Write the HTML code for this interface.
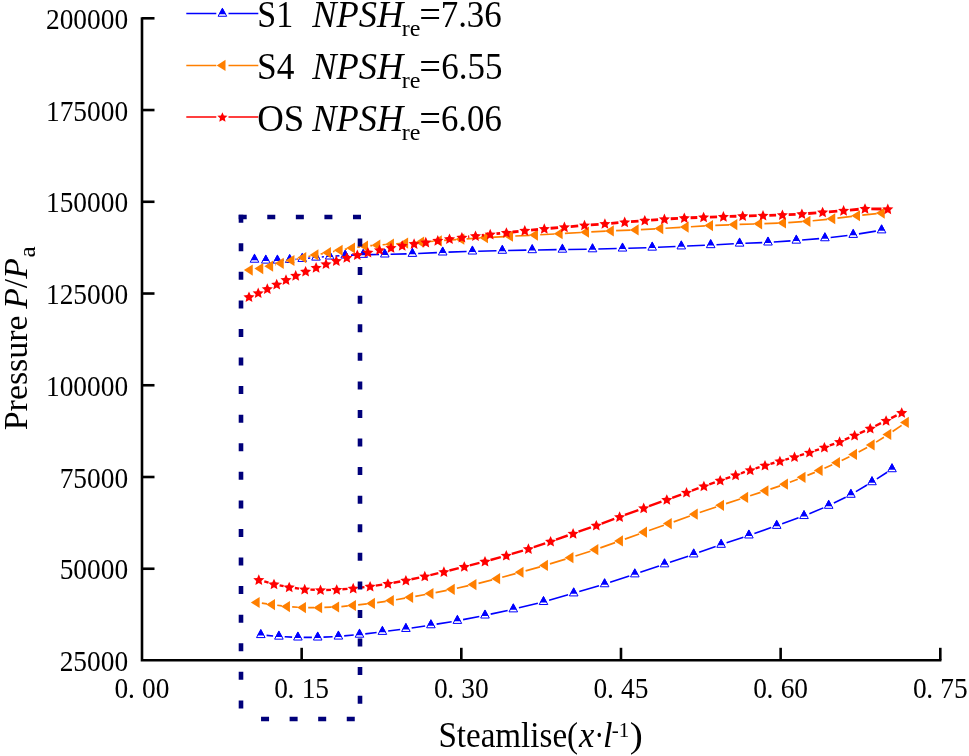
<!DOCTYPE html>
<html lang="en">
<head>
<meta charset="utf-8">
<title>Pressure along streamline</title>
<style>
html,body{margin:0;padding:0;background:#fff;}
body{width:969px;height:756px;overflow:hidden;}
svg{display:block;}
</style>
</head>
<body>
<svg width="969" height="756" viewBox="0 0 969 756">
<rect width="969" height="756" fill="#fff"/>
<g stroke="#000" stroke-width="2.6" fill="none" stroke-linecap="butt">
<path d="M142 17.2V660.3H941.4"/>
<path d="M142 18.3H154.5"/>
<path d="M142 110.04H154.5"/>
<path d="M142 201.78H154.5"/>
<path d="M142 293.52H154.5"/>
<path d="M142 385.26H154.5"/>
<path d="M142 477H154.5"/>
<path d="M142 568.74H154.5"/>
<path d="M301.66 660.3V647.8"/>
<path d="M461.32 660.3V647.8"/>
<path d="M620.98 660.3V647.8"/>
<path d="M780.64 660.3V647.8"/>
<path d="M940.3 660.3V647.8"/>
</g>
<g font-family="'Liberation Serif', serif" fill="#000">
<g>
<text transform="translate(128.1 28.8) scale(1 1.05)" font-size="27.4" text-anchor="end">200000</text>
<text transform="translate(128.1 120.54) scale(1 1.05)" font-size="27.4" text-anchor="end">175000</text>
<text transform="translate(128.1 212.28) scale(1 1.05)" font-size="27.4" text-anchor="end">150000</text>
<text transform="translate(128.1 304.02) scale(1 1.05)" font-size="27.4" text-anchor="end">125000</text>
<text transform="translate(128.1 395.76) scale(1 1.05)" font-size="27.4" text-anchor="end">100000</text>
<text transform="translate(128.1 487.5) scale(1 1.05)" font-size="27.4" text-anchor="end">75000</text>
<text transform="translate(128.1 579.24) scale(1 1.05)" font-size="27.4" text-anchor="end">50000</text>
<text transform="translate(128.1 670.98) scale(1 1.05)" font-size="27.4" text-anchor="end">25000</text>
<text transform="translate(142 697.6) scale(1 1.05)" font-size="27.4" x="-27.4 -14.1 0 13.7">0.00</text>
<text transform="translate(301.66 697.6) scale(1 1.05)" font-size="27.4" x="-27.4 -14.1 0 13.7">0.15</text>
<text transform="translate(461.32 697.6) scale(1 1.05)" font-size="27.4" x="-27.4 -14.1 0 13.7">0.30</text>
<text transform="translate(620.98 697.6) scale(1 1.05)" font-size="27.4" x="-27.4 -14.1 0 13.7">0.45</text>
<text transform="translate(780.64 697.6) scale(1 1.05)" font-size="27.4" x="-27.4 -14.1 0 13.7">0.60</text>
<text transform="translate(940.3 697.6) scale(1 1.05)" font-size="27.4" x="-27.4 -14.1 0 13.7">0.75</text>
</g>
<text transform="translate(438.38 746.8) scale(1 1.09)" font-size="33.11">Steamlise(</text>
<text transform="translate(579.04 746.8) scale(1 1.05)" font-size="34.44" font-style="italic">x</text>
<text transform="translate(594.3 746.8) scale(1 1.2)" font-size="30">·</text>
<text transform="translate(603.08 746.8) scale(1 1.05)" font-size="34.4" font-style="italic">l</text>
<text transform="translate(611.76 736.6) scale(1 1)" font-size="21.1">-1</text>
<text transform="translate(629.72 746.8) scale(1 0.92)" font-size="39.23">)</text>
<g transform="translate(26.5 0) rotate(-90)">
<text transform="translate(-430.22 0) scale(1 1.01)" font-size="33.89">Pressure</text>
<text transform="translate(-308.8 0) scale(1 1.02)" font-size="33.7"><tspan font-style="italic">P</tspan>/<tspan font-style="italic">P</tspan></text>
<text transform="translate(-257.41 8.7) scale(1 0.96)" font-size="25.13">a</text>
</g>
</g>
<path d="M283.19 260.17L283.91 260.14M295.48 259.35L296.42 259.27M307.97 258.22L310.23 258M321.78 256.99L323.92 256.82M335.49 256.01L339.41 255.77M351 255.17L357.4 254.91M369 254.59L379 254.45M390.6 254.23L406.6 253.86M418.19 253.47L436.91 252.61M448.5 252.16L466.6 251.56M478.2 251.23L496.5 250.77M508.1 250.51L526.4 250.15M538 249.94L556.6 249.64M568.2 249.47L586.7 249.21M598.3 248.99L616.7 248.54M628.3 248.22L646.4 247.68M657.99 247.26L675.51 246.52M687.09 246.02L704.91 245.25M716.49 244.69L733.81 243.78M745.4 243.24L762.2 242.59M773.79 241.99L790.51 240.88M802.08 240.01L819.12 238.58M830.66 237.42L847.44 235.44M858.93 233.84L875.87 231.14" stroke="#0000ff" stroke-width="1.6" fill="none"/>
<path d="M266.58 635.42L273.12 635.99M284.69 636.76L292.11 637.1M303.7 637.38L311.9 637.39M323.49 637.12L332.61 636.69M344.18 635.91L353.72 635.06M365.26 633.84L376.64 632.44M388.16 631.01L400.14 629.52M411.64 627.95L425.16 625.95M436.62 624.16L451.68 621.68M463.09 619.63L479.31 616.48M490.67 614.14L507.63 610.43M518.94 607.83L537.86 603.23M549.08 600.27L568.12 594.84M579.26 591.6L599.04 585.74M610.11 582.29L629.29 576.02M640.29 572.36L659.01 566.04M669.99 562.33L688.21 556.15M699.17 552.37L715.63 546.58M726.6 542.81L743.4 537.17M754.38 533.43L771.22 527.61M782.16 523.75L798.54 517.85M809.36 513.66L823.34 507.87M833.89 503.07L845.71 497.2M855.88 491.65L867.02 485.02M876.86 478.89L887.14 472.22" stroke="#0000ff" stroke-width="1.6" fill="none"/>
<path d="M254.5 254.22L258.8 262.22L250.2 262.22Z" fill="#fff" stroke="#0000ff" stroke-width="1" stroke-linejoin="miter"/><path d="M254.5 253.62L258.08 260.14L250.92 260.14Z" fill="#0000ff"/>
<path d="M265.8 255.11L270.1 263.11L261.5 263.11Z" fill="#fff" stroke="#0000ff" stroke-width="1" stroke-linejoin="miter"/><path d="M265.8 254.51L269.38 261.03L262.22 261.03Z" fill="#0000ff"/>
<path d="M277.4 255.13L281.7 263.13L273.1 263.13Z" fill="#fff" stroke="#0000ff" stroke-width="1" stroke-linejoin="miter"/><path d="M277.4 254.53L280.98 261.05L273.82 261.05Z" fill="#0000ff"/>
<path d="M289.7 254.51L294 262.51L285.4 262.51Z" fill="#fff" stroke="#0000ff" stroke-width="1" stroke-linejoin="miter"/><path d="M289.7 253.91L293.28 260.43L286.12 260.43Z" fill="#0000ff"/>
<path d="M302.2 253.44L306.5 261.44L297.9 261.44Z" fill="#fff" stroke="#0000ff" stroke-width="1" stroke-linejoin="miter"/><path d="M302.2 252.84L305.78 259.36L298.62 259.36Z" fill="#0000ff"/>
<path d="M316 252.12L320.3 260.12L311.7 260.12Z" fill="#fff" stroke="#0000ff" stroke-width="1" stroke-linejoin="miter"/><path d="M316 251.52L319.58 258.04L312.42 258.04Z" fill="#0000ff"/>
<path d="M329.7 251.03L334 259.03L325.4 259.03Z" fill="#fff" stroke="#0000ff" stroke-width="1" stroke-linejoin="miter"/><path d="M329.7 250.43L333.28 256.95L326.12 256.95Z" fill="#0000ff"/>
<path d="M345.2 250.08L349.5 258.08L340.9 258.08Z" fill="#fff" stroke="#0000ff" stroke-width="1" stroke-linejoin="miter"/><path d="M345.2 249.48L348.78 256L341.62 256Z" fill="#0000ff"/>
<path d="M363.2 249.35L367.5 257.35L358.9 257.35Z" fill="#fff" stroke="#0000ff" stroke-width="1" stroke-linejoin="miter"/><path d="M363.2 248.75L366.78 255.27L359.62 255.27Z" fill="#0000ff"/>
<path d="M384.8 249.03L389.1 257.03L380.5 257.03Z" fill="#fff" stroke="#0000ff" stroke-width="1" stroke-linejoin="miter"/><path d="M384.8 248.43L388.38 254.95L381.22 254.95Z" fill="#0000ff"/>
<path d="M412.4 248.4L416.7 256.4L408.1 256.4Z" fill="#fff" stroke="#0000ff" stroke-width="1" stroke-linejoin="miter"/><path d="M412.4 247.8L415.98 254.32L408.82 254.32Z" fill="#0000ff"/>
<path d="M442.7 247.02L447 255.02L438.4 255.02Z" fill="#fff" stroke="#0000ff" stroke-width="1" stroke-linejoin="miter"/><path d="M442.7 246.42L446.28 252.94L439.12 252.94Z" fill="#0000ff"/>
<path d="M472.4 246.04L476.7 254.04L468.1 254.04Z" fill="#fff" stroke="#0000ff" stroke-width="1" stroke-linejoin="miter"/><path d="M472.4 245.44L475.98 251.96L468.82 251.96Z" fill="#0000ff"/>
<path d="M502.3 245.29L506.6 253.29L498 253.29Z" fill="#fff" stroke="#0000ff" stroke-width="1" stroke-linejoin="miter"/><path d="M502.3 244.69L505.88 251.21L498.72 251.21Z" fill="#0000ff"/>
<path d="M532.2 244.7L536.5 252.7L527.9 252.7Z" fill="#fff" stroke="#0000ff" stroke-width="1" stroke-linejoin="miter"/><path d="M532.2 244.1L535.78 250.62L528.62 250.62Z" fill="#0000ff"/>
<path d="M562.4 244.21L566.7 252.21L558.1 252.21Z" fill="#fff" stroke="#0000ff" stroke-width="1" stroke-linejoin="miter"/><path d="M562.4 243.61L565.98 250.13L558.82 250.13Z" fill="#0000ff"/>
<path d="M592.5 243.8L596.8 251.8L588.2 251.8Z" fill="#fff" stroke="#0000ff" stroke-width="1" stroke-linejoin="miter"/><path d="M592.5 243.2L596.08 249.72L588.92 249.72Z" fill="#0000ff"/>
<path d="M622.5 243.07L626.8 251.07L618.2 251.07Z" fill="#fff" stroke="#0000ff" stroke-width="1" stroke-linejoin="miter"/><path d="M622.5 242.47L626.08 248.99L618.92 248.99Z" fill="#0000ff"/>
<path d="M652.2 242.17L656.5 250.17L647.9 250.17Z" fill="#fff" stroke="#0000ff" stroke-width="1" stroke-linejoin="miter"/><path d="M652.2 241.57L655.78 248.09L648.62 248.09Z" fill="#0000ff"/>
<path d="M681.3 240.94L685.6 248.94L677 248.94Z" fill="#fff" stroke="#0000ff" stroke-width="1" stroke-linejoin="miter"/><path d="M681.3 240.34L684.88 246.86L677.72 246.86Z" fill="#0000ff"/>
<path d="M710.7 239.67L715 247.67L706.4 247.67Z" fill="#fff" stroke="#0000ff" stroke-width="1" stroke-linejoin="miter"/><path d="M710.7 239.07L714.28 245.59L707.12 245.59Z" fill="#0000ff"/>
<path d="M739.6 238.14L743.9 246.14L735.3 246.14Z" fill="#fff" stroke="#0000ff" stroke-width="1" stroke-linejoin="miter"/><path d="M739.6 237.54L743.18 244.06L736.02 244.06Z" fill="#0000ff"/>
<path d="M768 237.03L772.3 245.03L763.7 245.03Z" fill="#fff" stroke="#0000ff" stroke-width="1" stroke-linejoin="miter"/><path d="M768 236.43L771.58 242.95L764.42 242.95Z" fill="#0000ff"/>
<path d="M796.3 235.17L800.6 243.17L792 243.17Z" fill="#fff" stroke="#0000ff" stroke-width="1" stroke-linejoin="miter"/><path d="M796.3 234.57L799.88 241.09L792.72 241.09Z" fill="#0000ff"/>
<path d="M824.9 232.76L829.2 240.76L820.6 240.76Z" fill="#fff" stroke="#0000ff" stroke-width="1" stroke-linejoin="miter"/><path d="M824.9 232.16L828.48 238.68L821.32 238.68Z" fill="#0000ff"/>
<path d="M853.2 229.42L857.5 237.42L848.9 237.42Z" fill="#fff" stroke="#0000ff" stroke-width="1" stroke-linejoin="miter"/><path d="M853.2 228.82L856.78 235.34L849.62 235.34Z" fill="#0000ff"/>
<path d="M881.6 224.89L885.9 232.89L877.3 232.89Z" fill="#fff" stroke="#0000ff" stroke-width="1" stroke-linejoin="miter"/><path d="M881.6 224.29L885.18 230.81L878.02 230.81Z" fill="#0000ff"/>
<path d="M260.8 629.58L265.1 637.58L256.5 637.58Z" fill="#fff" stroke="#0000ff" stroke-width="1" stroke-linejoin="miter"/><path d="M260.8 628.98L264.38 635.5L257.22 635.5Z" fill="#0000ff"/>
<path d="M278.9 631.16L283.2 639.16L274.6 639.16Z" fill="#fff" stroke="#0000ff" stroke-width="1" stroke-linejoin="miter"/><path d="M278.9 630.56L282.48 637.08L275.32 637.08Z" fill="#0000ff"/>
<path d="M297.9 632.04L302.2 640.04L293.6 640.04Z" fill="#fff" stroke="#0000ff" stroke-width="1" stroke-linejoin="miter"/><path d="M297.9 631.44L301.48 637.96L294.32 637.96Z" fill="#0000ff"/>
<path d="M317.7 632.06L322 640.06L313.4 640.06Z" fill="#fff" stroke="#0000ff" stroke-width="1" stroke-linejoin="miter"/><path d="M317.7 631.46L321.28 637.98L314.12 637.98Z" fill="#0000ff"/>
<path d="M338.4 631.09L342.7 639.09L334.1 639.09Z" fill="#fff" stroke="#0000ff" stroke-width="1" stroke-linejoin="miter"/><path d="M338.4 630.49L341.98 637.01L334.82 637.01Z" fill="#0000ff"/>
<path d="M359.5 629.21L363.8 637.21L355.2 637.21Z" fill="#fff" stroke="#0000ff" stroke-width="1" stroke-linejoin="miter"/><path d="M359.5 628.61L363.08 635.13L355.92 635.13Z" fill="#0000ff"/>
<path d="M382.4 626.4L386.7 634.4L378.1 634.4Z" fill="#fff" stroke="#0000ff" stroke-width="1" stroke-linejoin="miter"/><path d="M382.4 625.8L385.98 632.32L378.82 632.32Z" fill="#0000ff"/>
<path d="M405.9 623.46L410.2 631.46L401.6 631.46Z" fill="#fff" stroke="#0000ff" stroke-width="1" stroke-linejoin="miter"/><path d="M405.9 622.86L409.48 629.38L402.32 629.38Z" fill="#0000ff"/>
<path d="M430.9 619.77L435.2 627.77L426.6 627.77Z" fill="#fff" stroke="#0000ff" stroke-width="1" stroke-linejoin="miter"/><path d="M430.9 619.17L434.48 625.69L427.32 625.69Z" fill="#0000ff"/>
<path d="M457.4 615.41L461.7 623.41L453.1 623.41Z" fill="#fff" stroke="#0000ff" stroke-width="1" stroke-linejoin="miter"/><path d="M457.4 614.81L460.98 621.33L453.82 621.33Z" fill="#0000ff"/>
<path d="M485 610.04L489.3 618.04L480.7 618.04Z" fill="#fff" stroke="#0000ff" stroke-width="1" stroke-linejoin="miter"/><path d="M485 609.44L488.58 615.96L481.42 615.96Z" fill="#0000ff"/>
<path d="M513.3 603.86L517.6 611.86L509 611.86Z" fill="#fff" stroke="#0000ff" stroke-width="1" stroke-linejoin="miter"/><path d="M513.3 603.26L516.88 609.78L509.72 609.78Z" fill="#0000ff"/>
<path d="M543.5 596.52L547.8 604.52L539.2 604.52Z" fill="#fff" stroke="#0000ff" stroke-width="1" stroke-linejoin="miter"/><path d="M543.5 595.92L547.08 602.44L539.92 602.44Z" fill="#0000ff"/>
<path d="M573.7 587.91L578 595.91L569.4 595.91Z" fill="#fff" stroke="#0000ff" stroke-width="1" stroke-linejoin="miter"/><path d="M573.7 587.31L577.28 593.83L570.12 593.83Z" fill="#0000ff"/>
<path d="M604.6 578.75L608.9 586.75L600.3 586.75Z" fill="#fff" stroke="#0000ff" stroke-width="1" stroke-linejoin="miter"/><path d="M604.6 578.15L608.18 584.67L601.02 584.67Z" fill="#0000ff"/>
<path d="M634.8 568.89L639.1 576.89L630.5 576.89Z" fill="#fff" stroke="#0000ff" stroke-width="1" stroke-linejoin="miter"/><path d="M634.8 568.29L638.38 574.81L631.22 574.81Z" fill="#0000ff"/>
<path d="M664.5 558.85L668.8 566.85L660.2 566.85Z" fill="#fff" stroke="#0000ff" stroke-width="1" stroke-linejoin="miter"/><path d="M664.5 558.25L668.08 564.77L660.92 564.77Z" fill="#0000ff"/>
<path d="M693.7 548.96L698 556.96L689.4 556.96Z" fill="#fff" stroke="#0000ff" stroke-width="1" stroke-linejoin="miter"/><path d="M693.7 548.36L697.28 554.88L690.12 554.88Z" fill="#0000ff"/>
<path d="M721.1 539.32L725.4 547.32L716.8 547.32Z" fill="#fff" stroke="#0000ff" stroke-width="1" stroke-linejoin="miter"/><path d="M721.1 538.72L724.68 545.24L717.52 545.24Z" fill="#0000ff"/>
<path d="M748.9 529.99L753.2 537.99L744.6 537.99Z" fill="#fff" stroke="#0000ff" stroke-width="1" stroke-linejoin="miter"/><path d="M748.9 529.39L752.48 535.91L745.32 535.91Z" fill="#0000ff"/>
<path d="M776.7 520.38L781 528.38L772.4 528.38Z" fill="#fff" stroke="#0000ff" stroke-width="1" stroke-linejoin="miter"/><path d="M776.7 519.78L780.28 526.3L773.12 526.3Z" fill="#0000ff"/>
<path d="M804 510.55L808.3 518.55L799.7 518.55Z" fill="#fff" stroke="#0000ff" stroke-width="1" stroke-linejoin="miter"/><path d="M804 509.95L807.58 516.47L800.42 516.47Z" fill="#0000ff"/>
<path d="M828.7 500.32L833 508.32L824.4 508.32Z" fill="#fff" stroke="#0000ff" stroke-width="1" stroke-linejoin="miter"/><path d="M828.7 499.72L832.28 506.24L825.12 506.24Z" fill="#0000ff"/>
<path d="M850.9 489.29L855.2 497.29L846.6 497.29Z" fill="#fff" stroke="#0000ff" stroke-width="1" stroke-linejoin="miter"/><path d="M850.9 488.69L854.48 495.21L847.32 495.21Z" fill="#0000ff"/>
<path d="M872 476.72L876.3 484.72L867.7 484.72Z" fill="#fff" stroke="#0000ff" stroke-width="1" stroke-linejoin="miter"/><path d="M872 476.12L875.58 482.64L868.42 482.64Z" fill="#0000ff"/>
<path d="M892 463.73L896.3 471.73L887.7 471.73Z" fill="#fff" stroke="#0000ff" stroke-width="1" stroke-linejoin="miter"/><path d="M892 463.13L895.58 469.65L888.42 469.65Z" fill="#0000ff"/>
<path d="M275.22 264.82L275.78 264.66M285.83 261.99L286.47 261.83M296.55 259.28L298.25 258.86M308.38 256.5L310.42 256.05M320.61 253.99L322.89 253.58M333.09 251.6L334.61 251.29M344.82 249.31L346.98 248.92M357.25 247.26L359.95 246.87M370.28 245.71L372.22 245.56M382.59 244.76L385.81 244.52M396.19 243.76L400.01 243.48M410.39 242.79L416.01 242.45M426.39 241.76L433.71 241.23M444.09 240.47L456.21 239.59M466.59 238.87L479.91 237.98M490.29 237.35L504.91 236.54M515.29 236L529.81 235.3M540.19 234.76L554.51 233.99M564.89 233.41L580.91 232.48M591.29 231.91L605.71 231.16M616.1 230.69L630.5 230.11M640.89 229.61L655.11 228.83M665.49 228.25L680.51 227.37M690.89 226.75L704.91 225.87M715.3 225.35L729.2 224.82M739.6 224.45L754 223.98M764.4 223.61L777.9 223.09M788.29 222.55L802.31 221.62M812.67 220.75L827.13 219.29M837.46 218.14L851.94 216.38M862.27 215.19L876.63 213.65" stroke="#ff7f00" stroke-width="1.7" fill="none"/>
<path d="M261.85 603.18L266.95 603.86M277.25 605.26L281.85 605.89M292.19 606.9L297.81 607.23M308.2 607.58L314 607.61M324.4 607.45L331 607.2M341.38 606.54L347.82 605.96M358.17 604.91L366.83 603.95M377.15 602.63L385.75 601.37M396.02 599.73L405.08 598.16M415.31 596.34L425.39 594.49M435.6 592.55L446.7 590.37M456.88 588.24L468.42 585.68M478.55 583.3L492.15 579.93M502.22 577.3L515.58 573.64M525.61 570.86L539.99 566.81M549.97 563.89L565.53 559.15M575.45 556.04L590.45 551.22M600.3 547.89L615.1 542.67M624.89 539.16L639.21 533.95M649.01 530.47L663.89 525.3M673.69 521.83L689.91 515.96M699.73 512.53L716.17 506.96M726.04 503.67L740.26 499M750.15 495.78L760.55 492.42M770.42 489.14L780.08 485.84M789.85 482.28L797.75 479.2M807.42 475.37L814.88 472.37M824.45 468.31L832.25 464.8M841.68 460.42L849.42 456.7M858.68 451.97L867.12 447.41M876.09 442.15L883.91 437.2M892.6 431.5L901.6 425.39" stroke="#ff7f00" stroke-width="1.7" fill="none"/>
<path d="M243.93 270.09L252.73 264.49L252.73 275.69Z" fill="#ff7f00"/>
<path d="M254.43 268.53L263.23 262.93L263.23 274.13Z" fill="#ff7f00"/>
<path d="M264.33 266.18L273.13 260.58L273.13 271.78Z" fill="#ff7f00"/>
<path d="M274.93 263.29L283.73 257.69L283.73 268.89Z" fill="#ff7f00"/>
<path d="M285.63 260.52L294.43 254.92L294.43 266.12Z" fill="#ff7f00"/>
<path d="M297.43 257.62L306.23 252.02L306.23 263.22Z" fill="#ff7f00"/>
<path d="M309.63 254.93L318.43 249.33L318.43 260.53Z" fill="#ff7f00"/>
<path d="M322.13 252.64L330.93 247.04L330.93 258.24Z" fill="#ff7f00"/>
<path d="M333.83 250.25L342.63 244.65L342.63 255.85Z" fill="#ff7f00"/>
<path d="M346.23 247.99L355.03 242.39L355.03 253.59Z" fill="#ff7f00"/>
<path d="M359.23 246.14L368.03 240.54L368.03 251.74Z" fill="#ff7f00"/>
<path d="M371.53 245.13L380.33 239.53L380.33 250.73Z" fill="#ff7f00"/>
<path d="M385.13 244.15L393.93 238.55L393.93 249.75Z" fill="#ff7f00"/>
<path d="M399.33 243.1L408.13 237.5L408.13 248.7Z" fill="#ff7f00"/>
<path d="M415.33 242.14L424.13 236.54L424.13 247.74Z" fill="#ff7f00"/>
<path d="M433.03 240.85L441.83 235.25L441.83 246.45Z" fill="#ff7f00"/>
<path d="M455.53 239.21L464.33 233.61L464.33 244.81Z" fill="#ff7f00"/>
<path d="M479.23 237.64L488.03 232.04L488.03 243.24Z" fill="#ff7f00"/>
<path d="M504.23 236.25L513.03 230.65L513.03 241.85Z" fill="#ff7f00"/>
<path d="M529.13 235.04L537.93 229.44L537.93 240.64Z" fill="#ff7f00"/>
<path d="M553.83 233.72L562.63 228.12L562.63 239.32Z" fill="#ff7f00"/>
<path d="M580.23 232.18L589.03 226.58L589.03 237.78Z" fill="#ff7f00"/>
<path d="M605.03 230.9L613.83 225.3L613.83 236.5Z" fill="#ff7f00"/>
<path d="M629.83 229.9L638.63 224.3L638.63 235.5Z" fill="#ff7f00"/>
<path d="M654.43 228.55L663.23 222.95L663.23 234.15Z" fill="#ff7f00"/>
<path d="M679.83 227.07L688.63 221.47L688.63 232.67Z" fill="#ff7f00"/>
<path d="M704.23 225.54L713.03 219.94L713.03 231.14Z" fill="#ff7f00"/>
<path d="M728.53 224.62L737.33 219.02L737.33 230.22Z" fill="#ff7f00"/>
<path d="M753.33 223.81L762.13 218.21L762.13 229.41Z" fill="#ff7f00"/>
<path d="M777.23 222.89L786.03 217.29L786.03 228.49Z" fill="#ff7f00"/>
<path d="M801.63 221.28L810.43 215.68L810.43 226.88Z" fill="#ff7f00"/>
<path d="M826.43 218.77L835.23 213.17L835.23 224.37Z" fill="#ff7f00"/>
<path d="M851.23 215.75L860.03 210.15L860.03 221.35Z" fill="#ff7f00"/>
<path d="M875.93 213.09L884.73 207.49L884.73 218.69Z" fill="#ff7f00"/>
<path d="M250.83 602.48L259.63 596.88L259.63 608.08Z" fill="#ff7f00"/>
<path d="M266.23 604.56L275.03 598.96L275.03 610.16Z" fill="#ff7f00"/>
<path d="M281.13 606.59L289.93 600.99L289.93 612.19Z" fill="#ff7f00"/>
<path d="M297.13 607.54L305.93 601.94L305.93 613.14Z" fill="#ff7f00"/>
<path d="M313.33 607.65L322.13 602.05L322.13 613.25Z" fill="#ff7f00"/>
<path d="M330.33 607.01L339.13 601.41L339.13 612.61Z" fill="#ff7f00"/>
<path d="M347.13 605.49L355.93 599.89L355.93 611.09Z" fill="#ff7f00"/>
<path d="M366.13 603.38L374.93 597.78L374.93 608.98Z" fill="#ff7f00"/>
<path d="M385.03 600.62L393.83 595.02L393.83 606.22Z" fill="#ff7f00"/>
<path d="M404.33 597.28L413.13 591.68L413.13 602.88Z" fill="#ff7f00"/>
<path d="M424.63 593.55L433.43 587.95L433.43 599.15Z" fill="#ff7f00"/>
<path d="M445.93 589.37L454.73 583.77L454.73 594.97Z" fill="#ff7f00"/>
<path d="M467.63 584.55L476.43 578.95L476.43 590.15Z" fill="#ff7f00"/>
<path d="M491.33 578.68L500.13 573.08L500.13 584.28Z" fill="#ff7f00"/>
<path d="M514.73 572.26L523.53 566.66L523.53 577.86Z" fill="#ff7f00"/>
<path d="M539.13 565.4L547.93 559.8L547.93 571Z" fill="#ff7f00"/>
<path d="M564.63 557.63L573.43 552.03L573.43 563.23Z" fill="#ff7f00"/>
<path d="M589.53 549.63L598.33 544.03L598.33 555.23Z" fill="#ff7f00"/>
<path d="M614.13 540.94L622.93 535.34L622.93 546.54Z" fill="#ff7f00"/>
<path d="M638.23 532.17L647.03 526.57L647.03 537.77Z" fill="#ff7f00"/>
<path d="M662.93 523.6L671.73 518L671.73 529.2Z" fill="#ff7f00"/>
<path d="M688.93 514.2L697.73 508.6L697.73 519.8Z" fill="#ff7f00"/>
<path d="M715.23 505.29L724.03 499.69L724.03 510.89Z" fill="#ff7f00"/>
<path d="M739.33 497.38L748.13 491.78L748.13 502.98Z" fill="#ff7f00"/>
<path d="M759.63 490.81L768.43 485.21L768.43 496.41Z" fill="#ff7f00"/>
<path d="M779.13 484.16L787.93 478.56L787.93 489.76Z" fill="#ff7f00"/>
<path d="M796.73 477.31L805.53 471.71L805.53 482.91Z" fill="#ff7f00"/>
<path d="M813.83 470.43L822.63 464.83L822.63 476.03Z" fill="#ff7f00"/>
<path d="M831.13 462.68L839.93 457.08L839.93 468.28Z" fill="#ff7f00"/>
<path d="M848.23 454.44L857.03 448.84L857.03 460.04Z" fill="#ff7f00"/>
<path d="M865.83 444.93L874.63 439.33L874.63 450.53Z" fill="#ff7f00"/>
<path d="M882.43 434.42L891.23 428.82L891.23 440.02Z" fill="#ff7f00"/>
<path d="M900.03 422.47L908.83 416.87L908.83 428.07Z" fill="#ff7f00"/>
<path d="M468.16 236.78L469.24 236.66M481.76 235.28L483.94 235.05M496.47 233.73L500.13 233.34M512.66 231.99L518.54 231.33M531.07 230.04L538.03 229.39M550.58 228.27L558.12 227.64M570.68 226.55L578.22 225.88M590.78 224.86L598.62 224.28M611.18 223.3L618.42 222.69M630.98 221.65L638.52 221.05M651.08 220.08L658.12 219.57M670.69 218.77L678.01 218.37M690.59 217.76L697.31 217.48M709.9 217.04L717.1 216.83M729.7 216.45L736.4 216.24M749 215.89L756.7 215.71M769.3 215.37L776.1 215.15M788.69 214.65L795.61 214.32M808.18 213.49L816.32 212.8M828.88 211.78L837.32 211.1M849.88 210.05L858.72 209.26M871.3 208.81L881.5 208.99" stroke="#ff0000" stroke-width="2.8" fill="none"/>
<path d="M264.28 581.46L268.52 582.69M279.6 585.37L283.6 586.14M294.85 588L299.05 588.58M310.39 589.6L314.81 589.8M326.2 589.93L331 589.83M342.38 589.26L347.52 588.85M358.86 587.74L364.44 587.09M375.74 585.57L382.26 584.58M393.51 582.72L400.29 581.51M411.47 579.28L419.23 577.56M430.35 575.05L438.35 573.19M449.43 570.51L458.77 568.15M469.82 565.36L479.48 562.9M490.49 559.98L500.81 557.11M511.76 553.94L522.94 550.55M533.81 547.1L545.19 543.31M555.98 539.62L567.72 535.5M578.48 531.73L590.92 527.37M601.65 523.52L614.25 518.89M624.95 514.96L638.35 510.06M649.06 506.15L661.44 501.67M672.16 497.78L681.14 494.52M691.85 490.62L698.55 488.17M709.28 484.34L714.82 482.41M725.58 478.65L730.22 477.02M740.99 473.28L744.81 471.96M755.64 468.4L759.56 467.17M770.48 463.9L774.42 462.77M785.38 459.65L789.02 458.62M799.96 455.43L804.04 454.2M814.89 450.7L819.01 449.29M829.75 445.46L834.25 443.8M844.84 439.59L849.36 437.67M859.81 433.12L864.99 430.81M875.32 425.98L880.98 423.2M891.18 418.1L896.62 415.33" stroke="#ff0000" stroke-width="2.4" fill="none"/>
<path d="M249 291.5L250.62 295.12L254.56 295.54L251.61 298.2L252.44 302.08L249 300.1L245.56 302.08L246.39 298.2L243.44 295.54L247.38 295.12Z" fill="#ff0000"/>
<path d="M258.2 287.52L259.82 291.14L263.76 291.56L260.81 294.22L261.64 298.1L258.2 296.12L254.76 298.1L255.59 294.22L252.64 291.56L256.58 291.14Z" fill="#ff0000"/>
<path d="M267.3 283.37L268.92 287L272.86 287.41L269.91 290.07L270.74 293.95L267.3 291.97L263.86 293.95L264.69 290.07L261.74 287.41L265.68 287Z" fill="#ff0000"/>
<path d="M276.7 278.86L278.32 282.49L282.26 282.91L279.31 285.56L280.14 289.45L276.7 287.46L273.26 289.45L274.09 285.56L271.14 282.91L275.08 282.49Z" fill="#ff0000"/>
<path d="M286 274.32L287.62 277.95L291.56 278.36L288.61 281.02L289.44 284.9L286 282.92L282.56 284.9L283.39 281.02L280.44 278.36L284.38 277.95Z" fill="#ff0000"/>
<path d="M295.7 270.05L297.32 273.68L301.26 274.1L298.31 276.75L299.14 280.64L295.7 278.65L292.26 280.64L293.09 276.75L290.14 274.1L294.08 273.68Z" fill="#ff0000"/>
<path d="M305.6 265.96L307.22 269.59L311.16 270L308.21 272.66L309.04 276.54L305.6 274.56L302.16 276.54L302.99 272.66L300.04 270L303.98 269.59Z" fill="#ff0000"/>
<path d="M316.1 262.09L317.72 265.72L321.66 266.13L318.71 268.79L319.54 272.67L316.1 270.69L312.66 272.67L313.49 268.79L310.54 266.13L314.48 265.72Z" fill="#ff0000"/>
<path d="M326 258.52L327.62 262.14L331.56 262.56L328.61 265.22L329.44 269.1L326 267.12L322.56 269.1L323.39 265.22L320.44 262.56L324.38 262.14Z" fill="#ff0000"/>
<path d="M336.3 255.33L337.92 258.95L341.86 259.37L338.91 262.03L339.74 265.91L336.3 263.93L332.86 265.91L333.69 262.03L330.74 259.37L334.68 258.95Z" fill="#ff0000"/>
<path d="M346.8 252.23L348.42 255.85L352.36 256.27L349.41 258.93L350.24 262.81L346.8 260.83L343.36 262.81L344.19 258.93L341.24 256.27L345.18 255.85Z" fill="#ff0000"/>
<path d="M357.3 249.46L358.92 253.08L362.86 253.5L359.91 256.16L360.74 260.04L357.3 258.06L353.86 260.04L354.69 256.16L351.74 253.5L355.68 253.08Z" fill="#ff0000"/>
<path d="M367.9 246.91L369.52 250.53L373.46 250.95L370.51 253.61L371.34 257.49L367.9 255.51L364.46 257.49L365.29 253.61L362.34 250.95L366.28 250.53Z" fill="#ff0000"/>
<path d="M379.5 244.52L381.12 248.14L385.06 248.56L382.11 251.22L382.94 255.1L379.5 253.12L376.06 255.1L376.89 251.22L373.94 248.56L377.88 248.14Z" fill="#ff0000"/>
<path d="M391 242.28L392.62 245.9L396.56 246.32L393.61 248.98L394.44 252.86L391 250.88L387.56 252.86L388.39 248.98L385.44 246.32L389.38 245.9Z" fill="#ff0000"/>
<path d="M402.2 240.22L403.82 243.85L407.76 244.26L404.81 246.92L405.64 250.8L402.2 248.82L398.76 250.8L399.59 246.92L396.64 244.26L400.58 243.85Z" fill="#ff0000"/>
<path d="M414.1 238.33L415.72 241.95L419.66 242.37L416.71 245.02L417.54 248.91L414.1 246.92L410.66 248.91L411.49 245.02L408.54 242.37L412.48 241.95Z" fill="#ff0000"/>
<path d="M425.8 236.82L427.42 240.45L431.36 240.87L428.41 243.52L429.24 247.41L425.8 245.42L422.36 247.41L423.19 243.52L420.24 240.87L424.18 240.45Z" fill="#ff0000"/>
<path d="M437.8 235.07L439.42 238.69L443.36 239.11L440.41 241.77L441.24 245.65L437.8 243.67L434.36 245.65L435.19 241.77L432.24 239.11L436.18 238.69Z" fill="#ff0000"/>
<path d="M449.5 233.48L451.12 237.11L455.06 237.53L452.11 240.18L452.94 244.07L449.5 242.08L446.06 244.07L446.89 240.18L443.94 237.53L447.88 237.11Z" fill="#ff0000"/>
<path d="M461.9 231.94L463.52 235.56L467.46 235.98L464.51 238.64L465.34 242.52L461.9 240.54L458.46 242.52L459.29 238.64L456.34 235.98L460.28 235.56Z" fill="#ff0000"/>
<path d="M475.5 230.4L477.12 234.03L481.06 234.45L478.11 237.1L478.94 240.99L475.5 239L472.06 240.99L472.89 237.1L469.94 234.45L473.88 234.03Z" fill="#ff0000"/>
<path d="M490.2 228.83L491.82 232.46L495.76 232.87L492.81 235.53L493.64 239.41L490.2 237.43L486.76 239.41L487.59 235.53L484.64 232.87L488.58 232.46Z" fill="#ff0000"/>
<path d="M506.4 227.14L508.02 230.77L511.96 231.18L509.01 233.84L509.84 237.72L506.4 235.74L502.96 237.72L503.79 233.84L500.84 231.18L504.78 230.77Z" fill="#ff0000"/>
<path d="M524.8 225.07L526.42 228.7L530.36 229.11L527.41 231.77L528.24 235.65L524.8 233.67L521.36 235.65L522.19 231.77L519.24 229.11L523.18 228.7Z" fill="#ff0000"/>
<path d="M544.3 223.25L545.92 226.88L549.86 227.29L546.91 229.95L547.74 233.83L544.3 231.85L540.86 233.83L541.69 229.95L538.74 227.29L542.68 226.88Z" fill="#ff0000"/>
<path d="M564.4 221.56L566.02 225.19L569.96 225.6L567.01 228.26L567.84 232.14L564.4 230.16L560.96 232.14L561.79 228.26L558.84 225.6L562.78 225.19Z" fill="#ff0000"/>
<path d="M584.5 219.77L586.12 223.39L590.06 223.81L587.11 226.46L587.94 230.35L584.5 228.36L581.06 230.35L581.89 226.46L578.94 223.81L582.88 223.39Z" fill="#ff0000"/>
<path d="M604.9 218.27L606.52 221.9L610.46 222.32L607.51 224.97L608.34 228.86L604.9 226.87L601.46 228.86L602.29 224.97L599.34 222.32L603.28 221.9Z" fill="#ff0000"/>
<path d="M624.7 216.61L626.32 220.23L630.26 220.65L627.31 223.31L628.14 227.19L624.7 225.21L621.26 227.19L622.09 223.31L619.14 220.65L623.08 220.23Z" fill="#ff0000"/>
<path d="M644.8 214.99L646.42 218.62L650.36 219.03L647.41 221.69L648.24 225.57L644.8 223.59L641.36 225.57L642.19 221.69L639.24 219.03L643.18 218.62Z" fill="#ff0000"/>
<path d="M664.4 213.57L666.02 217.19L669.96 217.61L667.01 220.27L667.84 224.15L664.4 222.17L660.96 224.15L661.79 220.27L658.84 217.61L662.78 217.19Z" fill="#ff0000"/>
<path d="M684.3 212.47L685.92 216.1L689.86 216.51L686.91 219.17L687.74 223.05L684.3 221.07L680.86 223.05L681.69 219.17L678.74 216.51L682.68 216.1Z" fill="#ff0000"/>
<path d="M703.6 211.67L705.22 215.29L709.16 215.71L706.21 218.37L707.04 222.25L703.6 220.27L700.16 222.25L700.99 218.37L698.04 215.71L701.98 215.29Z" fill="#ff0000"/>
<path d="M723.4 211.09L725.02 214.72L728.96 215.14L726.01 217.79L726.84 221.68L723.4 219.69L719.96 221.68L720.79 217.79L717.84 215.14L721.78 214.72Z" fill="#ff0000"/>
<path d="M742.7 210.49L744.32 214.11L748.26 214.53L745.31 217.19L746.14 221.07L742.7 219.09L739.26 221.07L740.09 217.19L737.14 214.53L741.08 214.11Z" fill="#ff0000"/>
<path d="M763 210.02L764.62 213.64L768.56 214.06L765.61 216.72L766.44 220.6L763 218.62L759.56 220.6L760.39 216.72L757.44 214.06L761.38 213.64Z" fill="#ff0000"/>
<path d="M782.4 209.4L784.02 213.03L787.96 213.44L785.01 216.1L785.84 219.98L782.4 218L778.96 219.98L779.79 216.1L776.84 213.44L780.78 213.03Z" fill="#ff0000"/>
<path d="M801.9 208.47L803.52 212.1L807.46 212.51L804.51 215.17L805.34 219.05L801.9 217.07L798.46 219.05L799.29 215.17L796.34 212.51L800.28 212.1Z" fill="#ff0000"/>
<path d="M822.6 206.72L824.22 210.35L828.16 210.77L825.21 213.42L826.04 217.31L822.6 215.32L819.16 217.31L819.99 213.42L817.04 210.77L820.98 210.35Z" fill="#ff0000"/>
<path d="M843.6 205.06L845.22 208.68L849.16 209.1L846.21 211.76L847.04 215.64L843.6 213.66L840.16 215.64L840.99 211.76L838.04 209.1L841.98 208.68Z" fill="#ff0000"/>
<path d="M865 203.15L866.62 206.78L870.56 207.19L867.61 209.85L868.44 213.73L865 211.75L861.56 213.73L862.39 209.85L859.44 207.19L863.38 206.78Z" fill="#ff0000"/>
<path d="M887.8 203.55L889.42 207.18L893.36 207.59L890.41 210.25L891.24 214.13L887.8 212.15L884.36 214.13L885.19 210.25L882.24 207.59L886.18 207.18Z" fill="#ff0000"/>
<path d="M258.8 574.33L260.42 577.95L264.36 578.37L261.41 581.03L262.24 584.91L258.8 582.93L255.36 584.91L256.19 581.03L253.24 578.37L257.18 577.95Z" fill="#ff0000"/>
<path d="M274 578.73L275.62 582.35L279.56 582.77L276.61 585.43L277.44 589.31L274 587.33L270.56 589.31L271.39 585.43L268.44 582.77L272.38 582.35Z" fill="#ff0000"/>
<path d="M289.2 581.68L290.82 585.31L294.76 585.72L291.81 588.38L292.64 592.26L289.2 590.28L285.76 592.26L286.59 588.38L283.64 585.72L287.58 585.31Z" fill="#ff0000"/>
<path d="M304.7 583.8L306.32 587.42L310.26 587.84L307.31 590.5L308.14 594.38L304.7 592.4L301.26 594.38L302.09 590.5L299.14 587.84L303.08 587.42Z" fill="#ff0000"/>
<path d="M320.5 584.51L322.12 588.13L326.06 588.55L323.11 591.21L323.94 595.09L320.5 593.11L317.06 595.09L317.89 591.21L314.94 588.55L318.88 588.13Z" fill="#ff0000"/>
<path d="M336.7 584.16L338.32 587.78L342.26 588.2L339.31 590.86L340.14 594.74L336.7 592.76L333.26 594.74L334.09 590.86L331.14 588.2L335.08 587.78Z" fill="#ff0000"/>
<path d="M353.2 582.85L354.82 586.48L358.76 586.89L355.81 589.55L356.64 593.43L353.2 591.45L349.76 593.43L350.59 589.55L347.64 586.89L351.58 586.48Z" fill="#ff0000"/>
<path d="M370.1 580.88L371.72 584.51L375.66 584.92L372.71 587.58L373.54 591.46L370.1 589.48L366.66 591.46L367.49 587.58L364.54 584.92L368.48 584.51Z" fill="#ff0000"/>
<path d="M387.9 578.17L389.52 581.79L393.46 582.21L390.51 584.87L391.34 588.75L387.9 586.77L384.46 588.75L385.29 584.87L382.34 582.21L386.28 581.79Z" fill="#ff0000"/>
<path d="M405.9 574.96L407.52 578.59L411.46 579L408.51 581.66L409.34 585.54L405.9 583.56L402.46 585.54L403.29 581.66L400.34 579L404.28 578.59Z" fill="#ff0000"/>
<path d="M424.8 570.78L426.42 574.41L430.36 574.83L427.41 577.48L428.24 581.37L424.8 579.38L421.36 581.37L422.19 577.48L419.24 574.83L423.18 574.41Z" fill="#ff0000"/>
<path d="M443.9 566.35L445.52 569.98L449.46 570.39L446.51 573.05L447.34 576.93L443.9 574.95L440.46 576.93L441.29 573.05L438.34 570.39L442.28 569.98Z" fill="#ff0000"/>
<path d="M464.3 561.21L465.92 564.84L469.86 565.25L466.91 567.91L467.74 571.8L464.3 569.81L460.86 571.8L461.69 567.91L458.74 565.25L462.68 564.84Z" fill="#ff0000"/>
<path d="M485 555.95L486.62 559.58L490.56 559.99L487.61 562.65L488.44 566.53L485 564.55L481.56 566.53L482.39 562.65L479.44 559.99L483.38 559.58Z" fill="#ff0000"/>
<path d="M506.3 550.04L507.92 553.66L511.86 554.08L508.91 556.74L509.74 560.62L506.3 558.64L502.86 560.62L503.69 556.74L500.74 554.08L504.68 553.66Z" fill="#ff0000"/>
<path d="M528.4 543.35L530.02 546.98L533.96 547.4L531.01 550.05L531.84 553.94L528.4 551.95L524.96 553.94L525.79 550.05L522.84 547.4L526.78 546.98Z" fill="#ff0000"/>
<path d="M550.6 535.96L552.22 539.59L556.16 540L553.21 542.66L554.04 546.54L550.6 544.56L547.16 546.54L547.99 542.66L545.04 540L548.98 539.59Z" fill="#ff0000"/>
<path d="M573.1 528.06L574.72 531.69L578.66 532.1L575.71 534.76L576.54 538.64L573.1 536.66L569.66 538.64L570.49 534.76L567.54 532.1L571.48 531.69Z" fill="#ff0000"/>
<path d="M596.3 519.93L597.92 523.56L601.86 523.98L598.91 526.63L599.74 530.52L596.3 528.53L592.86 530.52L593.69 526.63L590.74 523.98L594.68 523.56Z" fill="#ff0000"/>
<path d="M619.6 511.37L621.22 515L625.16 515.41L622.21 518.07L623.04 521.95L619.6 519.97L616.16 521.95L616.99 518.07L614.04 515.41L617.98 515Z" fill="#ff0000"/>
<path d="M643.7 502.55L645.32 506.17L649.26 506.59L646.31 509.25L647.14 513.13L643.7 511.15L640.26 513.13L641.09 509.25L638.14 506.59L642.08 506.17Z" fill="#ff0000"/>
<path d="M666.8 494.18L668.42 497.8L672.36 498.22L669.41 500.88L670.24 504.76L666.8 502.78L663.36 504.76L664.19 500.88L661.24 498.22L665.18 497.8Z" fill="#ff0000"/>
<path d="M686.5 487.02L688.12 490.65L692.06 491.07L689.11 493.72L689.94 497.61L686.5 495.62L683.06 497.61L683.89 493.72L680.94 491.07L684.88 490.65Z" fill="#ff0000"/>
<path d="M703.9 480.66L705.52 484.29L709.46 484.71L706.51 487.36L707.34 491.25L703.9 489.26L700.46 491.25L701.29 487.36L698.34 484.71L702.28 484.29Z" fill="#ff0000"/>
<path d="M720.2 474.98L721.82 478.61L725.76 479.03L722.81 481.68L723.64 485.57L720.2 483.58L716.76 485.57L717.59 481.68L714.64 479.03L718.58 478.61Z" fill="#ff0000"/>
<path d="M735.6 469.59L737.22 473.21L741.16 473.63L738.21 476.29L739.04 480.17L735.6 478.19L732.16 480.17L732.99 476.29L730.04 473.63L733.98 473.21Z" fill="#ff0000"/>
<path d="M750.2 464.55L751.82 468.18L755.76 468.59L752.81 471.25L753.64 475.13L750.2 473.15L746.76 475.13L747.59 471.25L744.64 468.59L748.58 468.18Z" fill="#ff0000"/>
<path d="M765 459.91L766.62 463.54L770.56 463.96L767.61 466.61L768.44 470.5L765 468.51L761.56 470.5L762.39 466.61L759.44 463.96L763.38 463.54Z" fill="#ff0000"/>
<path d="M779.9 455.65L781.52 459.28L785.46 459.69L782.51 462.35L783.34 466.23L779.9 464.25L776.46 466.23L777.29 462.35L774.34 459.69L778.28 459.28Z" fill="#ff0000"/>
<path d="M794.5 451.52L796.12 455.14L800.06 455.56L797.11 458.22L797.94 462.1L794.5 460.12L791.06 462.1L791.89 458.22L788.94 455.56L792.88 455.14Z" fill="#ff0000"/>
<path d="M809.5 447.01L811.12 450.63L815.06 451.05L812.11 453.71L812.94 457.59L809.5 455.61L806.06 457.59L806.89 453.71L803.94 451.05L807.88 450.63Z" fill="#ff0000"/>
<path d="M824.4 441.89L826.02 445.51L829.96 445.93L827.01 448.59L827.84 452.47L824.4 450.49L820.96 452.47L821.79 448.59L818.84 445.93L822.78 445.51Z" fill="#ff0000"/>
<path d="M839.6 436.28L841.22 439.9L845.16 440.32L842.21 442.98L843.04 446.86L839.6 444.88L836.16 446.86L836.99 442.98L834.04 440.32L837.98 439.9Z" fill="#ff0000"/>
<path d="M854.6 429.89L856.22 433.51L860.16 433.93L857.21 436.59L858.04 440.47L854.6 438.49L851.16 440.47L851.99 436.59L849.04 433.93L852.98 433.51Z" fill="#ff0000"/>
<path d="M870.2 422.94L871.82 426.56L875.76 426.98L872.81 429.64L873.64 433.52L870.2 431.54L866.76 433.52L867.59 429.64L864.64 426.98L868.58 426.56Z" fill="#ff0000"/>
<path d="M886.1 415.14L887.72 418.77L891.66 419.18L888.71 421.84L889.54 425.72L886.1 423.74L882.66 425.72L883.49 421.84L880.54 419.18L884.48 418.77Z" fill="#ff0000"/>
<path d="M901.7 407.19L903.32 410.82L907.26 411.24L904.31 413.89L905.14 417.78L901.7 415.79L898.26 417.78L899.09 413.89L896.14 411.24L900.08 410.82Z" fill="#ff0000"/>
<g stroke="#00007a" stroke-width="4.6" fill="none" stroke-linecap="square" stroke-dasharray="3.4 25.17">
<path d="M241 217H360V719H241"/>
<path d="M241 217V716"/>
</g>
<path d="M186.3 13.6H216.3M228.5 13.6H258.3" stroke="#0000ff" stroke-width="1.5"/>
<path d="M186.3 65.4H216.3M228.5 65.4H258.3" stroke="#ff7f00" stroke-width="1.5"/>
<path d="M186.3 117H216.3M228.5 117H258.3" stroke="#ff0000" stroke-width="1.5"/>
<path d="M222.4 8.27L226.7 16.27L218.1 16.27Z" fill="#fff" stroke="#0000ff" stroke-width="1" stroke-linejoin="miter"/><path d="M222.4 7.67L225.98 14.19L218.82 14.19Z" fill="#0000ff"/>
<path d="M216.73 65.4L225.53 59.8L225.53 71Z" fill="#ff7f00"/>
<path d="M222.4 112.2L223.86 115.48L227.44 115.86L224.77 118.27L225.52 121.79L222.4 119.99L219.28 121.79L220.03 118.27L217.36 115.86L220.94 115.48Z" fill="#ff0000"/>
<g font-family="'Liberation Serif', serif" fill="#000">
<text transform="translate(257.22 26.6) scale(1 1.1)" font-size="34.02">S1</text>
<text transform="translate(312.16 26.6) scale(1 1.03)" font-size="36.43" font-style="italic">NPSH</text>
<text transform="translate(401.82 35.7) scale(1 0.97)" font-size="24.03">re</text>
<text transform="translate(419.37 26.6) scale(1 0.97)" font-size="38.51">=</text>
<text transform="translate(440.65 26.6) scale(1 1.07)" font-size="34.97">7.36</text>
<text transform="translate(257.02 78.6) scale(1 1.06)" font-size="35.36">S4</text>
<text transform="translate(312.16 78.6) scale(1 1.03)" font-size="36.43" font-style="italic">NPSH</text>
<text transform="translate(401.82 87.7) scale(1 0.97)" font-size="24.03">re</text>
<text transform="translate(419.37 78.6) scale(1 0.97)" font-size="38.51">=</text>
<text transform="translate(441.3 78.6) scale(1 1.07)" font-size="34.97">6.55</text>
<text transform="translate(257.23 130.6) scale(1 1.02)" font-size="36.78">OS</text>
<text transform="translate(312.16 130.6) scale(1 1.03)" font-size="36.43" font-style="italic">NPSH</text>
<text transform="translate(401.82 139.7) scale(1 0.97)" font-size="24.03">re</text>
<text transform="translate(419.37 130.6) scale(1 0.97)" font-size="38.51">=</text>
<text transform="translate(440.91 130.6) scale(1 1.08)" font-size="34.82">6.06</text>
</g>
</svg>
</body>
</html>
